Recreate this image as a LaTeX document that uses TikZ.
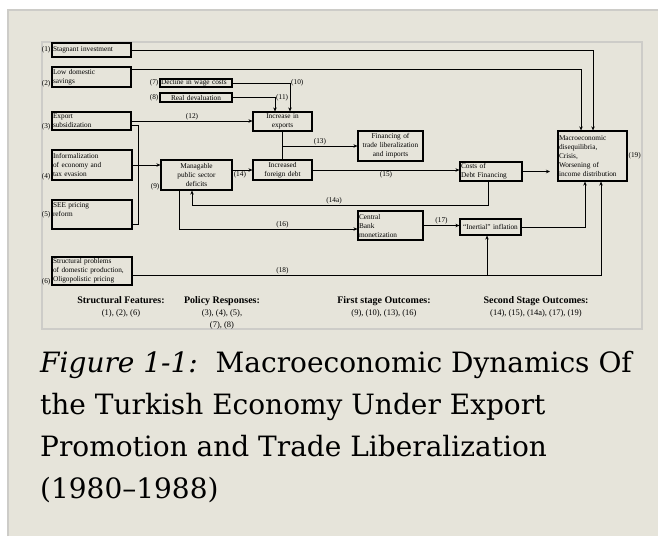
\documentclass[tikz,border=0pt]{standalone}
\usepackage{fontspec}
\setmainfont{Liberation Serif}
\newfontfamily\captionfont{DejaVu Serif}
\usepackage{xcolor}
\usetikzlibrary{arrows.meta,positioning,calc}
\definecolor{paper}{HTML}{E6E4DA}
\definecolor{rim}{HTML}{CDCCC8}

\begin{document}
\begin{tikzpicture}[
    x=1pt, y=-1pt,
    box/.style={draw, line width=1.2pt, inner sep=1pt, align=left, font=\fontsize{7.3}{9}\selectfont},
    cbox/.style={box, align=center},
    num/.style={inner sep=0.8pt, font=\fontsize{7.3}{8}\selectfont},
    line/.style={line width=0.8pt},
    arrow/.style={line, -{Stealth[length=4pt, width=3.5pt]}},
    head/.style={align=center, inner sep=0pt, anchor=north, font=\fontsize{8.5}{12}\selectfont},
]
\useasboundingbox (0,0) rectangle (658,536);

% Page and frame
\fill[white] (0,0) rectangle (658,536);
\fill[paper] (8,10) rectangle (658,536);
\draw[rim, line width=1.5pt] (8,536) -- (8,10) -- (658,10);
\draw[rim, line width=1.5pt] (42,42) rectangle (642,329);

% Structural features and policy responses (left column)
\node[box, text width=77pt, minimum height=14pt, label={[num]left:(1)}] (invest) at (91.5,50) {Stagnant investment};
\node[box, text width=77pt, minimum height=20pt, label={[num, anchor=south east]south west:(2)}] (savings) at (91.5,77) {Low domestic\\savings};
\node[box, text width=77pt, minimum height=18pt, label={[num, anchor=south east]south west:(3)}] (subsidy) at (91.5,121) {Export\\subsidization};
\node[box, text width=78pt, minimum height=30pt, label={[num, anchor=south east]south west:(4)}] (informal) at (92,165) {Informalization\\of economy and\\tax evasion};
\node[box, text width=78pt, minimum height=29pt, label={[num]left:(5)}] (pricing) at (92,214.5) {SEE pricing\\reform\\~};
\node[box, text width=78pt, minimum height=28pt, label={[num, anchor=south east]south west:(6)}] (structural) at (92,271) {Structural problems\\of domestic production,\\Oligopolistic pricing};

% Policy responses (7), (8)
\node[box, text width=70pt, minimum height=8pt, inner ysep=0.5pt, label={[num]left:(7)}] (wages) at (196,83) {Decline in wage costs};
\node[cbox, text width=70pt, minimum height=9pt, inner ysep=0.5pt, label={[num]left:(8)}] (deval) at (196,97.5) {Real devaluation};

% First stage outcomes
\node[cbox, text width=57pt, minimum height=19pt] (exports) at (282.5,121.5) {Increase in\\exports};
\node[cbox, text width=69pt, minimum height=30pt, label={[num, anchor=south east]south west:(9)}] (deficit) at (196.5,175) {Managable\\public sector\\deficits};
\node[cbox, text width=57pt, minimum height=20pt] (debt) at (282.5,170) {Increased\\foreign debt};
\node[cbox, text width=63pt, minimum height=30pt] (finance) at (390.5,146) {Financing of\\trade liberalization\\and imports};
\node[box, text width=63pt, minimum height=29pt] (monetize) at (390.5,225.5) {Central\\Bank\\monetization};

% Second stage outcomes
\node[box, text width=60pt, minimum height=19pt] (costs) at (491,171.5) {Costs of\\Debt Financing};
\node[cbox, text width=59pt, minimum height=16pt] (inertial) at (490.5,227) {“Inertial” inflation};
\node[box, text width=67pt, minimum height=50pt, label={[num]right:(19)}] (crisis) at (592.5,156) {Macroeconomic\\disequilibria,\\Crisis,\\Worsening of\\income distribution};
\coordinate (gap) at (550,171.5);
\coordinate (rail) at ($(structural.east)+(0,4)$);

% Arrows
\draw[arrow] (invest.east) -| ([xshift=0.5pt]crisis.north);
\draw[arrow] ($(savings.north east)+(0,3)$) -| ([xshift=-11.5pt]crisis.north);
\draw[arrow] (wages.east) -| ([xshift=7.5pt]exports.north) node[pos=0.5, num, right] {(10)};
\draw[arrow] (deval.east) -| ([xshift=-7.5pt]exports.north) node[pos=0.5, num, right] {(11)};
\draw[arrow] (subsidy.east) -- (subsidy.east -| exports.west) node[midway, num, above] {(12)};
\draw[line] ($(subsidy.east)+(0,4)$) -| ($(pricing.east)+(6,9.5)$) -- ($(pricing.east)+(0,9.5)$);
\draw[arrow] (informal.east) -- (informal.east -| deficit.west);
\draw[arrow] (debt.west -| deficit.east) -- (debt.west) node[pos=0, num, anchor=north west] {(14)};
\draw[line] (exports) -- (debt);
\draw[arrow] (exports.south |- finance.west) -- (finance.west) node[midway, num, above] {(13)};
\draw[arrow] (debt.east) -- (debt.east -| costs.west) node[midway, num, below] {(15)};
\draw[arrow] (costs.east) -- (gap);
\draw[arrow] ([xshift=-3pt]costs.south) -- ++(0,24) -| ([xshift=-4.5pt]deficit.south) node[pos=0.26, num, above] {(14a)};
\draw[arrow] ([xshift=-17.5pt]deficit.south) |- ($(monetize.west)+(0,3.5)$) node[pos=0.79, num, above] {(16)};
\draw[arrow] (monetize.east) -- (monetize.east -| inertial.west) node[midway, num, above] {(17)};
\draw[arrow] (inertial.east) -| ([xshift=-7.5pt]crisis.south);
\draw[arrow] (rail) -| ([xshift=8.5pt]crisis.south) node[pos=0.16, num, above] {(18)};
\draw[arrow] ([xshift=-3.5pt]inertial.south |- rail) -- ([xshift=-3.5pt]inertial.south);

% Legend
\node[head] (features) at (121,296) {\textbf{\fontsize{10}{12}\selectfont Structural Features:}\\(1), (2), (6)};
\node[head] (policy) at (222,296) {\textbf{\fontsize{10}{12}\selectfont Policy Responses:}\\(3), (4), (5),\\(7), (8)};
\node[head] (first) at (384,296) {\textbf{\fontsize{10}{12}\selectfont First stage Outcomes:}\\(9), (10), (13), (16)};
\node[head] (second) at (536,296) {\textbf{\fontsize{10}{12}\selectfont Second Stage Outcomes:}\\(14), (15), (14a), (17), (19)};

% Caption
\node[anchor=north west, align=left, inner sep=0pt, font=\captionfont\fontsize{28}{42}\selectfont] (caption) at (40,351)
  {\textit{Figure 1-1:}\ \ Macroeconomic Dynamics Of\\the Turkish Economy Under Export\\Promotion and Trade Liberalization\\(1980–1988)};
\end{tikzpicture}
\end{document}
